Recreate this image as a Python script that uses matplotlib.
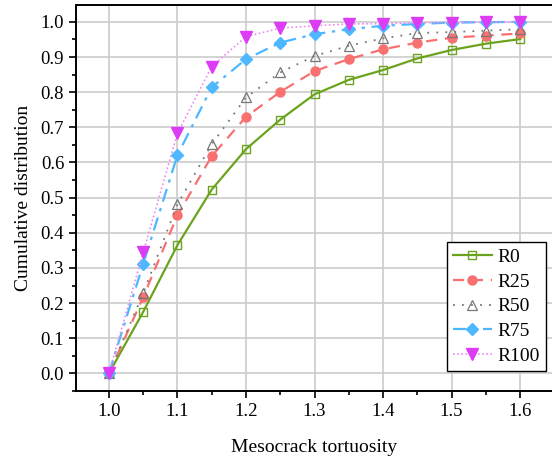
import matplotlib
matplotlib.use('Agg')
import matplotlib.pyplot as plt
from matplotlib.ticker import MultipleLocator

plt.rcParams['font.family'] = ['Liberation Serif', 'DejaVu Serif']
plt.rcParams['mathtext.fontset'] = 'stix'

# 数据：介观裂纹曲折度 vs 累积分布
tortuosity = [1.0, 1.05, 1.1, 1.15, 1.2, 1.25, 1.3, 1.35, 1.4, 1.45, 1.5, 1.55, 1.6]
r0 = [0.0, 0.175, 0.365, 0.523, 0.638, 0.722, 0.794, 0.835, 0.863, 0.896, 0.920, 0.938, 0.951]
r25 = [0.0, 0.217, 0.450, 0.618, 0.730, 0.801, 0.860, 0.894, 0.922, 0.941, 0.955, 0.961, 0.967]
r50 = [0.0, 0.228, 0.481, 0.652, 0.785, 0.856, 0.903, 0.932, 0.953, 0.968, 0.971, 0.975, 0.979]
r75 = [0.0, 0.311, 0.621, 0.814, 0.894, 0.941, 0.965, 0.979, 0.989, 0.994, 0.998, 0.999, 1.0]
r100 = [0.0, 0.344, 0.683, 0.873, 0.958, 0.982, 0.989, 0.994, 0.995, 0.997, 0.998, 0.999, 1.0]

fig = plt.figure(figsize=(5.52, 4.62), dpi=100)
ax = fig.add_axes([0.1377, 0.1537, 0.8643, 0.8355])

ax.plot(tortuosity, r0, color='#6BA31F', linestyle='-', linewidth=1.6,
        marker='s', markersize=5.5, markerfacecolor='none', markeredgewidth=1.0, label='R0')
ax.plot(tortuosity, r25, color='#F87070', linestyle=(0, (5, 3.5)), linewidth=1.6,
        marker='o', markersize=6.5, label='R25')
ax.plot(tortuosity, r50, color='#777777', linestyle=(0, (1, 4)), linewidth=1.3,
        marker='^', markersize=7, markerfacecolor='none', markeredgewidth=0.9, label='R50')
ax.plot(tortuosity, r75, color='#4DB8FF', linestyle=(0, (6, 3, 1.5, 3)), linewidth=1.6,
        marker='D', markersize=6, label='R75')
ax.plot(tortuosity, r100, color='#EE88F6', linestyle=(0, (1, 1.5)), linewidth=1.2,
        marker='v', markersize=8, markerfacecolor='#DD3CF5', markeredgecolor='#DD3CF5', label='R100')

ax.set_xlim(0.952, 1.648)
ax.set_ylim(-0.05, 1.048)
ax.xaxis.set_major_locator(MultipleLocator(0.1))
ax.xaxis.set_minor_locator(MultipleLocator(0.05))
ax.yaxis.set_major_locator(MultipleLocator(0.1))
ax.yaxis.set_minor_locator(MultipleLocator(0.05))
ax.xaxis.set_major_formatter(matplotlib.ticker.FormatStrFormatter('%.1f'))
ax.yaxis.set_major_formatter(matplotlib.ticker.FormatStrFormatter('%.1f'))

ax.grid(True, which='major', color='#CCCCCC', linewidth=1.2)
ax.set_axisbelow(True)
ax.tick_params(which='both', direction='out', labelsize=13.5, width=1.2)
ax.tick_params(which='major', length=5)
ax.tick_params(which='minor', length=3)
for s in ax.spines.values():
    s.set_linewidth(1.4)
ax.spines['right'].set_visible(False)

ax.set_xlabel('Mesocrack tortuosity', fontsize=14, labelpad=14)
ax.set_ylabel('Cumulative distribution', fontsize=14, labelpad=6)

leg = ax.legend(loc='lower right', bbox_to_anchor=(0.985, 0.052), fontsize=14,
                frameon=True, fancybox=False, edgecolor='black', framealpha=1,
                handlelength=2.0, handletextpad=0.3, labelspacing=0.37,
                borderpad=0.3, borderaxespad=0.0)
leg.get_frame().set_linewidth(1.0)

fig.savefig('out.png', dpi=100)
